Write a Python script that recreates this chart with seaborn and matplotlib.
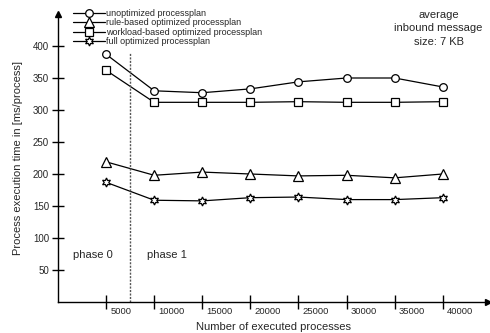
import matplotlib
matplotlib.use("Agg")
import matplotlib.pyplot as plt
import matplotlib.transforms as mtransforms
import seaborn as sns

# values
processes = [5000, 10000, 15000, 20000, 25000, 30000, 35000, 40000]
unoptimized = [387, 330, 327, 333, 344, 350, 350, 336]
rule_based = [219, 198, 203, 200, 197, 198, 194, 200]
workload_based = [362, 312, 312, 312, 313, 312, 312, 313]
full_optimized = [187, 159, 158, 163, 164, 160, 160, 163]

series_labels = ["unoptimized processplan", "rule-based optimized processplan",
                 "workload-based optimized processplan", "full optimized processplan"]
y_ticks = [50, 100, 150, 200, 250, 300, 350, 400]
x_ticks = processes
phase_split = 7500

sns.set_theme(style="white")
plt.rcParams['font.family'] = ['Liberation Sans', 'DejaVu Sans']

fig = plt.figure(figsize=(4.9, 3.33), dpi=100)
ax = fig.add_axes([58 / 490, 31 / 333, 430 / 490, 288 / 333])

series = [unoptimized, rule_based, workload_based, full_optimized]
markers = ["o", "^", "s", (6, 1, 0)]
msizes = [5.5, 6.5, 5.2, 6.5]
for vals, lab, mk, ms in zip(series, series_labels, markers, msizes):
    sns.lineplot(x=processes, y=vals, ax=ax, label=lab, color="black", lw=0.9,
                 marker=mk, markersize=ms, markerfacecolor="white",
                 markeredgecolor="black", markeredgewidth=0.9)

ax.set_xlim(0, 44700)
ax.set_ylim(0, 450)

# phase separator
ax.plot([phase_split, phase_split], [0, 390], color="#555555", lw=1, ls=(0, (1.5, 1)))
ax.text(3600, 73, "phase 0", fontsize=8, ha="center", va="center")
ax.text(11300, 73, "phase 1", fontsize=8, ha="center", va="center")

ax.text(0.885, 0.95, "average\ninbound message\nsize: 7 KB", transform=ax.transAxes,
        fontsize=8, ha="center", va="center", linespacing=1.45)

# schematic axes with arrows
for s in ["top", "right"]:
    ax.spines[s].set_visible(False)
for s in ["left", "bottom"]:
    ax.spines[s].set_color("black")
    ax.spines[s].set_linewidth(1)
ax.plot(1, 0, ">", color="black", ms=5, transform=ax.transAxes, clip_on=False)
ax.plot(0, 1, "^", color="black", ms=5, transform=ax.transAxes, clip_on=False)

ax.set_yticks(y_ticks)
ax.set_yticklabels([str(v) for v in y_ticks])
ax.set_xticks(x_ticks)
ax.set_xticklabels([str(v) for v in x_ticks])
ax.tick_params(axis="y", direction="inout", length=9, width=1, color="black",
               labelsize=7, pad=2, left=True)
ax.tick_params(axis="x", direction="inout", length=9.5, width=1, color="black",
               labelsize=6.8, pad=-1, bottom=True)
offset = mtransforms.ScaledTranslation(3 / 72, 0, fig.dpi_scale_trans)
for t in ax.get_xticklabels():
    t.set_horizontalalignment("left")
    t.set_transform(t.get_transform() + offset)

ax.set_xlabel("Number of executed processes", fontsize=8, labelpad=4.5)
ax.set_ylabel("Process execution time in [ms/process]", fontsize=8, labelpad=7)

ax.legend(loc="upper left", bbox_to_anchor=(73 / 490, 1 - 9 / 333),
          bbox_transform=fig.transFigure, frameon=False, fontsize=6.5,
          handlelength=3.5, handletextpad=0.2, labelspacing=0.05, borderpad=0,
          borderaxespad=0)

fig.savefig("out.png", dpi=100)
